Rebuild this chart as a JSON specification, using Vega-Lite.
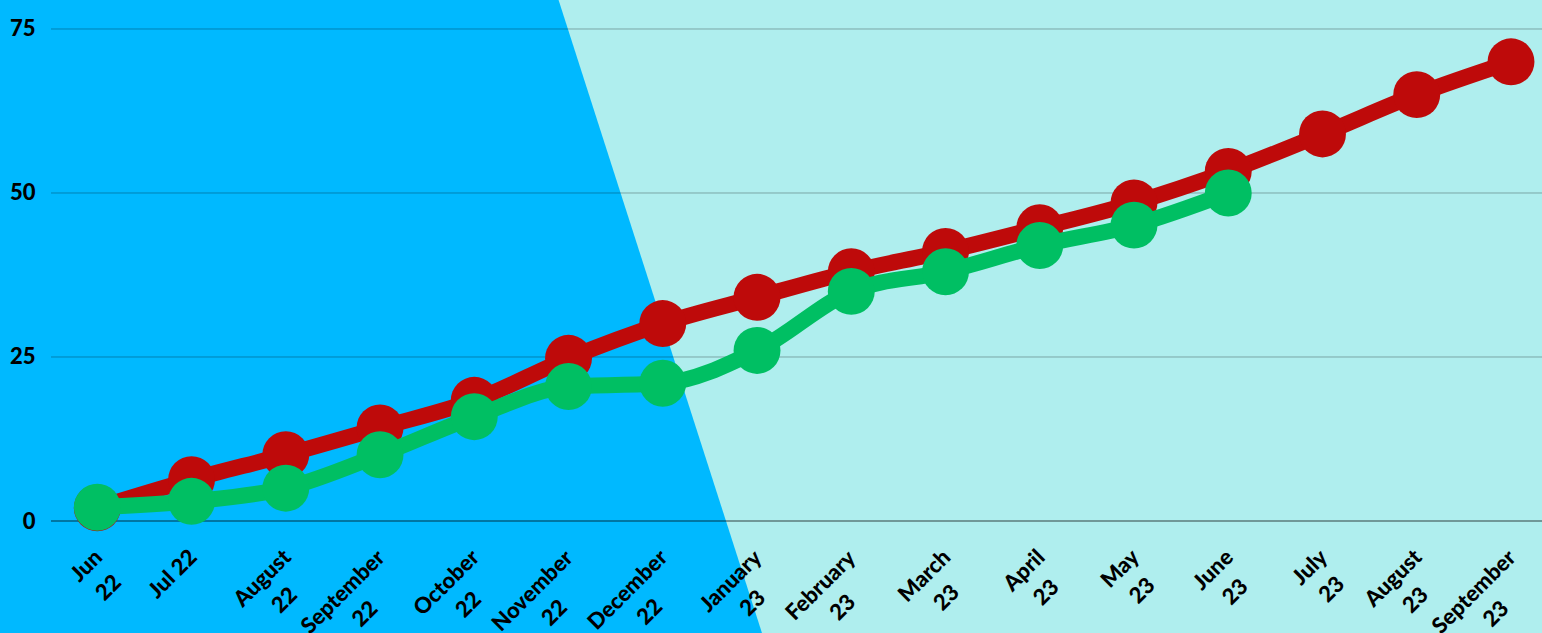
{
  "$schema": "https://vega.github.io/schema/vega-lite/v6.json",
  "width": 1491,
  "height": 521,
  "autosize": {"type": "none"},
  "padding": {"left": 51, "top": 0, "right": 0, "bottom": 112},
  "background": "#AFEEEE",
  "config": {
    "view": {"stroke": null},
    "axis": {"labelFont": "Lato", "labelFontWeight": 900, "labelColor": "#000000", "labelFontSize": 22, "zindex": 2}
  },
  "encoding": {
    "y": {
      "field": "value",
      "type": "quantitative",
      "scale": {"domain": [0, 79.42], "nice": false, "zero": false},
      "axis": {"values": [0, 25, 50, 75], "grid": false, "ticks": false, "domain": false, "labelPadding": 16, "title": null, "labelFontSize": 22, "zindex": 2}
    }
  },
  "layer": [
    {
      "data": {"values": [
        {"edge": 4.859, "value": 81, "left": -1.2},
        {"edge": 7.062, "value": -17.5, "left": -1.2}
      ]},
      "mark": {"type": "area", "orient": "horizontal", "color": "#00B9FF", "clip": false},
      "encoding": {
        "x": {"field": "edge", "type": "quantitative", "scale": {"domain": [0, 15], "range": [46.3, 1460], "nice": false, "zero": false}, "axis": null},
        "x2": {"field": "left"}
      }
    },
    {
      "data": {"values": [{"value": 0}, {"value": 25}, {"value": 50}, {"value": 75}]},
      "mark": {"type": "rule", "color": "#000000", "strokeWidth": 1},
      "encoding": {
        "strokeOpacity": {"condition": {"test": "datum.value === 0", "value": 0.72}, "value": 0.3}
      }
    },
    {
      "data": {"name": "series"},
      "encoding": {
        "x": {"field": "month", "type": "nominal", "sort": null, "scale": {"type": "point", "padding": 0, "range": [46.3, 1460]},
          "axis": {"title": null, "ticks": false, "domain": false, "grid": false, "zindex": 2, "labelAngle": -45, "labelAlign": "center", "labelBaseline": "top", "labelLineHeight": 31, "labelOverlap": false, "labelBound": false, "labelFlush": false,
            "labelExpr": "split(datum.label, '\\n')",
            "labelOffset": {"expr": "-6-7.78*([1.58,2.62,3.18,4.95,3.76,4.81,4.69,3.56,4.12,2.88,2.19,1.96,2.12,1.81][indexof(['Jun','Jul 22','August','September','October','November','December','January','February','March','April','May','June','July'], split(datum.value,'\\n')[0])])"},
            "labelPadding": {"expr": "25+7.78*([1.58,2.62,3.18,4.95,3.76,4.81,4.69,3.56,4.12,2.88,2.19,1.96,2.12,1.81][indexof(['Jun','Jul 22','August','September','October','November','December','January','February','March','April','May','June','July'], split(datum.value,'\\n')[0])])"}
          }},
        "color": {"field": "series", "type": "nominal", "scale": {"domain": ["Series 1", "Series 2"], "range": ["#BE0A0A", "#00BF63"]}, "legend": null}
      },
      "layer": [
        {
          "transform": [{"filter": "datum.series === 'Series 1'"}],
          "layer": [
            {"mark": {"type": "line", "interpolate": "monotone", "strokeWidth": 16, "strokeJoin": "round", "strokeCap": "round"}},
            {"mark": {"type": "point", "shape": "circle", "filled": true, "opacity": 1, "size": 2200}}
          ]
        },
        {
          "transform": [{"filter": "datum.series === 'Series 2'"}],
          "layer": [
            {"mark": {"type": "line", "interpolate": "monotone", "strokeWidth": 16, "strokeJoin": "round", "strokeCap": "round"}},
            {"mark": {"type": "point", "shape": "circle", "filled": true, "opacity": 1, "size": 2200}}
          ]
        }
      ]
    }
  ],
  "resolve": {"scale": {"x": "independent"}},
  "datasets": {
    "series": [
      {"month": "Jun\n22", "series": "Series 1", "value": 2},
      {"month": "Jul 22", "series": "Series 1", "value": 6.3},
      {"month": "August\n22", "series": "Series 1", "value": 10.1},
      {"month": "September\n22", "series": "Series 1", "value": 14.2},
      {"month": "October\n22", "series": "Series 1", "value": 18.4},
      {"month": "November\n22", "series": "Series 1", "value": 24.8},
      {"month": "December\n22", "series": "Series 1", "value": 30.1},
      {"month": "January\n23", "series": "Series 1", "value": 34.1},
      {"month": "February\n23", "series": "Series 1", "value": 38},
      {"month": "March\n23", "series": "Series 1", "value": 41.1},
      {"month": "April\n23", "series": "Series 1", "value": 44.7},
      {"month": "May\n23", "series": "Series 1", "value": 48.5},
      {"month": "June\n23", "series": "Series 1", "value": 53.3},
      {"month": "July\n23", "series": "Series 1", "value": 59},
      {"month": "August\n23", "series": "Series 1", "value": 65},
      {"month": "September\n23", "series": "Series 1", "value": 70},
      {"month": "Jun\n22", "series": "Series 2", "value": 2.1},
      {"month": "Jul 22", "series": "Series 2", "value": 3},
      {"month": "August\n22", "series": "Series 2", "value": 5},
      {"month": "September\n22", "series": "Series 2", "value": 10.1},
      {"month": "October\n22", "series": "Series 2", "value": 15.9},
      {"month": "November\n22", "series": "Series 2", "value": 20.5},
      {"month": "December\n22", "series": "Series 2", "value": 21},
      {"month": "January\n23", "series": "Series 2", "value": 26},
      {"month": "February\n23", "series": "Series 2", "value": 35},
      {"month": "March\n23", "series": "Series 2", "value": 38},
      {"month": "April\n23", "series": "Series 2", "value": 42},
      {"month": "May\n23", "series": "Series 2", "value": 45.1},
      {"month": "June\n23", "series": "Series 2", "value": 50}
    ]
  }
}
